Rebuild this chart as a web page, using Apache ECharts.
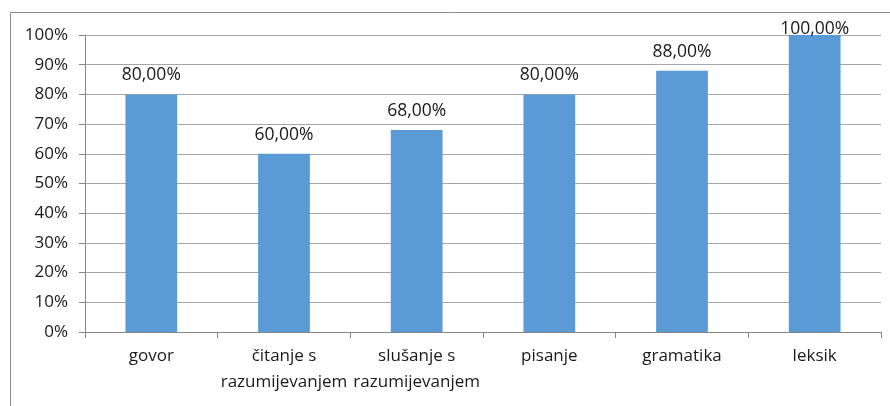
<!DOCTYPE html>
<html><head><meta charset="utf-8">
<script src="https://cdn.jsdelivr.net/npm/echarts@6/dist/echarts.min.js"></script>
<style>html,body{margin:0;padding:0;background:#fff}#c{width:890px;height:406px}</style>
</head><body><div id="c"></div>
<script>
const categories = ["govor", "čitanje s\nrazumijevanjem", "slušanje s\nrazumijevanjem", "pisanje", "gramatika", "leksik"];
const values = [80, 60, 68, 80, 88, 100];
const yTicks = [0, 10, 20, 30, 40, 50, 60, 70, 80, 90, 100];

const chart = echarts.init(document.getElementById('c'), null, {renderer: 'canvas'});
const font = '"Open Sans", "Noto Sans", sans-serif';
chart.setOption({
  animation: false,
  graphic: [{type: 'rect', shape: {x: 10.5, y: 12.5, width: 900, height: 420}, style: {fill: 'none', stroke: '#8a8a8a', lineWidth: 1}, silent: true}],
  grid: {left: 85, right: 9, top: 35, bottom: 74, containLabel: false},
  xAxis: {
    type: 'category', data: categories,
    axisLine: {lineStyle: {color: '#868686'}},
    axisTick: {show: true, alignWithLabel: false, length: 6, lineStyle: {color: '#868686'}},
    axisLabel: {color: '#1a1a1a', fontFamily: font, fontSize: 17, lineHeight: 26, margin: 11, interval: 0}
  },
  yAxis: {
    type: 'value', min: yTicks[0], max: yTicks[yTicks.length - 1], interval: 10,
    axisLine: {show: true, lineStyle: {color: '#868686'}},
    axisTick: {show: true, length: 6, lineStyle: {color: '#868686'}},
    splitLine: {lineStyle: {color: '#a6a6a6'}},
    axisLabel: {color: '#1a1a1a', fontFamily: font, fontSize: 17, margin: 17, formatter: v => v + '%'}
  },
  series: [{
    type: 'bar', barWidth: '39%',
    data: values.map((v, i) => ({value: v, label: i === values.length - 1 ? {distance: -3} : {}})),
    itemStyle: {color: '#5B9BD5'},
    label: {show: true, position: 'top', distance: 10, color: '#1a1a1a', fontFamily: font, fontSize: 17.5,
      formatter: p => p.value.toFixed(2).replace('.', ',') + '%'}
  }]
});
</script></body></html>
